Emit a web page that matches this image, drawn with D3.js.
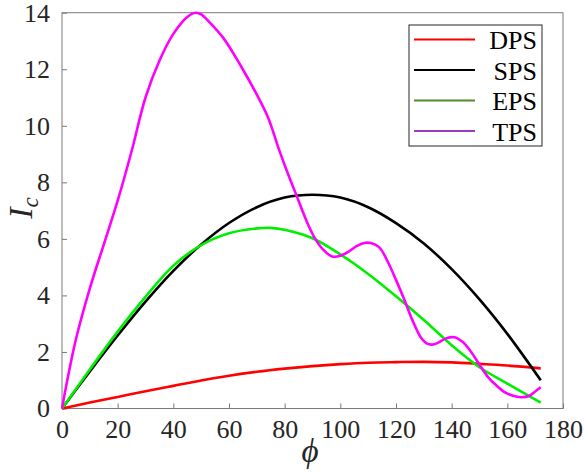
<!DOCTYPE html>
<html>
<head>
<meta charset="utf-8">
<script src="https://cdn.jsdelivr.net/npm/d3@7.9.0/dist/d3.min.js"></script>
<style>
  html, body { margin: 0; padding: 0; background: #fff; }
  svg { display: block; font-family: "Liberation Serif", "Times New Roman", serif; }
  svg text { font-family: "Liberation Serif", "Times New Roman", serif; }
</style>
</head>
<body>
<svg id="chart" width="584" height="472"></svg>
<script>
// values
const seriesNames = ['DPS', 'SPS', 'EPS', 'TPS'];
const lineColors = ['#ff0000', '#000000', '#00ee00', '#ff00ff'];
const legendColors = ['#ff0000', '#000000', '#4f8a32', '#9c3cc0'];

const phiDPS = [0, 10, 20, 30, 40, 50, 60, 70, 80, 90, 100, 110, 120, 130, 140, 150, 160, 172];
const valDPS = [0, 0.21, 0.41, 0.61, 0.80, 0.99, 1.16, 1.30, 1.41, 1.50, 1.57, 1.62, 1.64, 1.65, 1.63, 1.58, 1.52, 1.42];

const phiSPS = [0, 10, 20, 30, 40, 50, 60, 70, 80, 90, 100, 110, 120, 130, 140, 150, 160, 172];
const valSPS = [0, 1.31, 2.58, 3.78, 4.87, 5.80, 6.56, 7.12, 7.46, 7.56, 7.46, 7.12, 6.56, 5.84, 4.93, 3.86, 2.64, 1.0];

const phiEPS = [0, 10, 20, 30, 40, 50, 60, 70, 75, 80, 90, 100, 110, 120, 130, 140, 150, 160, 172];
const valEPS = [0, 1.38, 2.72, 3.95, 5.05, 5.78, 6.2, 6.37, 6.39, 6.32, 6.02, 5.45, 4.76, 3.97, 3.13, 2.24, 1.46, 0.88, 0.21];

const phiTPS = [0, 2, 5, 10, 15, 20, 25, 30, 35, 40, 45, 48, 50, 53, 58, 64, 70, 74, 78, 81, 84, 88, 91, 94, 97,
  100, 103, 106, 109, 111, 114, 117, 120, 123, 126, 129, 131, 133, 135, 138, 141, 144, 147, 150, 153, 156, 159,
  162, 165, 168, 170, 172];
const valTPS = [0, 1.05, 2.45, 4.25, 5.8, 7.35, 9.1, 11.0, 12.3, 13.25, 13.85, 14.0, 13.94, 13.66, 13.1, 12.16, 11.1,
  10.3, 9.15, 8.35, 7.6, 6.6, 6.0, 5.6, 5.38, 5.4, 5.55, 5.75, 5.86, 5.85, 5.7, 5.2, 4.55, 3.85, 3.1, 2.5, 2.3,
  2.26, 2.32, 2.48, 2.52, 2.35, 2.0, 1.55, 1.12, 0.82, 0.58, 0.45, 0.40, 0.45, 0.6, 0.75];

const xTicks = [0, 20, 40, 60, 80, 100, 120, 140, 160, 180];
const yTicks = [0, 2, 4, 6, 8, 10, 12, 14];

const allPhi = [phiDPS, phiSPS, phiEPS, phiTPS];
const allVal = [valDPS, valSPS, valEPS, valTPS];

// layout
const boxLeft = 62, boxRight = 563, boxTop = 12.7, boxBottom = 408.5;

const svg = d3.select('#chart');
const x = d3.scaleLinear().domain([0, 180]).range([boxLeft, boxRight]);
const y = d3.scaleLinear().domain([0, 14]).range([boxBottom, boxTop]);

const axisColor = '#7a7a7a';
const serif = '"Liberation Serif", "Times New Roman", serif';

// box
svg.append('rect')
  .attr('x', boxLeft).attr('y', boxTop)
  .attr('width', boxRight - boxLeft).attr('height', boxBottom - boxTop)
  .attr('fill', 'none')
  .attr('stroke', axisColor)
  .attr('stroke-width', 1);

// bottom axis, ticks pointing in
const xAxis = svg.append('g')
  .attr('transform', `translate(0,${boxBottom})`)
  .call(d3.axisBottom(x).tickValues(xTicks).tickSize(-5).tickPadding(11).tickFormat(d3.format('d')));
xAxis.attr('font-family', serif).attr('font-size', 26);
xAxis.select('.domain').remove();
xAxis.selectAll('line').attr('stroke', axisColor);
xAxis.selectAll('text').attr('fill', '#262626');

const yAxis = svg.append('g')
  .attr('transform', `translate(${boxLeft},0)`)
  .call(d3.axisLeft(y).tickValues(yTicks).tickSize(-5).tickPadding(12).tickFormat(d3.format('d')));
yAxis.attr('font-family', serif).attr('font-size', 26);
yAxis.select('.domain').remove();
yAxis.selectAll('line').attr('stroke', axisColor);
yAxis.selectAll('text').attr('fill', '#262626');

// curves
const line = d3.line()
  .x(d => x(d[0]))
  .y(d => y(d[1]))
  .curve(d3.curveCatmullRom.alpha(0.5));

const plot = svg.append('g');
seriesNames.forEach((name, i) => {
  const pts = d3.zip(allPhi[i], allVal[i]);
  plot.append('path')
    .datum(pts)
    .attr('d', line)
    .attr('fill', 'none')
    .attr('stroke', lineColors[i])
    .attr('stroke-width', 2.6)
    .attr('stroke-linejoin', 'round');
});

// legend
const lg = svg.append('g');
lg.append('rect')
  .attr('x', 409).attr('y', 25)
  .attr('width', 133).attr('height', 121)
  .attr('fill', '#fff')
  .attr('stroke', '#262626')
  .attr('stroke-width', 1);

seriesNames.forEach((name, i) => {
  const ly = 39.5 + i * 30.5;
  lg.append('line')
    .attr('x1', 414).attr('x2', 475)
    .attr('y1', ly).attr('y2', ly)
    .attr('stroke', legendColors[i])
    .attr('stroke-width', 1.8);
  lg.append('text')
    .attr('x', 537).attr('y', ly + 9.5)
    .attr('text-anchor', 'end')
    .style('font-size', '26px')
    .attr('fill', '#000')
    .text(name);
});

// axis labels
svg.append('text')
  .attr('x', 310).attr('y', 462)
  .attr('text-anchor', 'middle')
  .style('font-size', '33px')
  .style('font-style', 'italic')
  .attr('fill', '#262626')
  .text('\u03D5');

const yl = svg.append('text')
  .attr('transform', 'translate(32,208) rotate(-90)')
  .attr('text-anchor', 'middle')
  .attr('fill', '#262626')
  .style('font-style', 'italic');
yl.append('tspan').style('font-size', '34px').text('I');
yl.append('tspan').style('font-size', '23px').attr('dy', 6).text('c');
</script>
</body>
</html>
